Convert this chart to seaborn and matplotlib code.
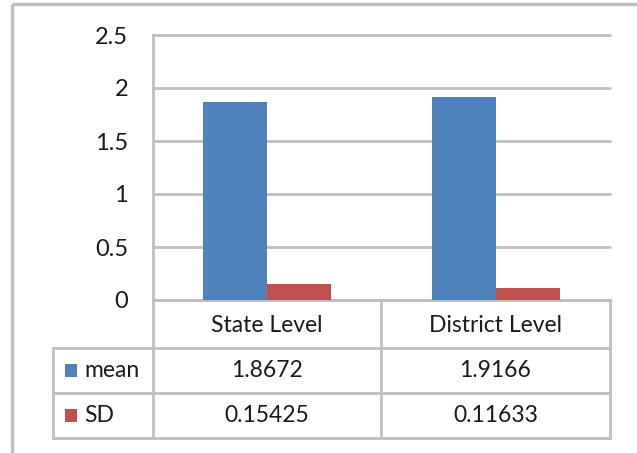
import pandas as pd
import matplotlib
matplotlib.use('Agg')
import matplotlib.pyplot as plt
import seaborn as sns

# data
levels = ['State Level', 'District Level']
series = ['mean', 'SD']
mean_vals = [1.8672, 1.9166]
sd_vals = [0.15425, 0.11633]
mean_text = ['1.8672', '1.9166']
sd_text = ['0.15425', '0.11633']
y_ticks = [0, 0.5, 1, 1.5, 2, 2.5]
y_labels = ['0', '0.5', '1', '1.5', '2', '2.5']

BLUE = '#4F81BD'
RED = '#C0504D'
GRID = '#BFBFBF'
TXT = '#1A1A1A'
W, H = 637, 453

df = pd.DataFrame({
    'level': levels * 2,
    'series': ['mean'] * len(levels) + ['SD'] * len(levels),
    'value': mean_vals + sd_vals,
})

sns.set_theme(style='white')
plt.rcParams['font.family'] = ['Lato', 'DejaVu Sans']

fig = plt.figure(figsize=(W / 100, H / 100), dpi=100)

# full-figure overlay in pixel coords for the frame and data table
bg = fig.add_axes([0, 0, 1, 1])
bg.set_xlim(0, W)
bg.set_ylim(H, 0)
bg.axis('off')


def px(x0, y0, x1, y1):
    return [x0 / W, 1 - y1 / H, (x1 - x0) / W, (y1 - y0) / H]


ax = fig.add_axes(px(153, 35, 610, 300))
sns.barplot(data=df, x='level', y='value', hue='series', order=levels,
            hue_order=series, palette=[BLUE, RED], saturation=1,
            width=0.56, linewidth=0, ax=ax, legend=False)
ax.set_ylim(0, 2.5)
ax.set_xlim(-0.5, 1.5)
ax.set_yticks(y_ticks)
ax.set_yticklabels(y_labels)
ax.set_xticks([])
ax.set_xlabel('')
ax.set_ylabel('')
ax.yaxis.grid(True, color=GRID, lw=2)
for gl in ax.get_ygridlines():
    gl.set_clip_on(False)
ax.set_axisbelow(True)
for s in ['top', 'right', 'bottom']:
    ax.spines[s].set_visible(False)
ax.spines['left'].set_color(GRID)
ax.spines['left'].set_linewidth(2)
ax.tick_params(axis='y', length=0, pad=18, labelsize=17, labelcolor=TXT)
ax.patch.set_alpha(0)

# outer chart border (top and left visible)
bg.plot([12, W], [4, 4], color=GRID, lw=2.5, solid_capstyle='butt')
bg.plot([12, 12], [4, H], color=GRID, lw=2.5, solid_capstyle='butt')

# data table
col_x = [153, 381, 610]
row_y = [300, 348, 393, 438]
lc = dict(color=GRID, lw=2, solid_capstyle='projecting')
bg.plot([153, 610], [row_y[0], row_y[0]], **lc)
for y in row_y[1:]:
    bg.plot([53, 610], [y, y], **lc)
for x in col_x:
    bg.plot([x, x], [row_y[0], row_y[-1]], **lc)
bg.plot([53, 53], [row_y[1], row_y[-1]], **lc)

centers = [(col_x[i] + col_x[i + 1]) / 2 for i in range(len(levels))]
for cx, lab in zip(centers, levels):
    bg.text(cx, (row_y[0] + row_y[1]) / 2 + 1, lab, ha='center', va='center',
            fontsize=16.5, color=TXT)

rows = [(series[0], BLUE, mean_text), (series[1], RED, sd_text)]
for i, (name, col, vals) in enumerate(rows):
    cy = (row_y[i + 1] + row_y[i + 2]) / 2
    bg.add_patch(plt.Rectangle((65, cy - 7), 12, 13, color=col, lw=0))
    bg.text(84, cy, name, ha='left', va='center', fontsize=16.5, color=TXT)
    for cx, v in zip(centers, vals):
        bg.text(cx, cy, v, ha='center', va='center', fontsize=16.5, color=TXT)

fig.savefig('out.png', dpi=100)
